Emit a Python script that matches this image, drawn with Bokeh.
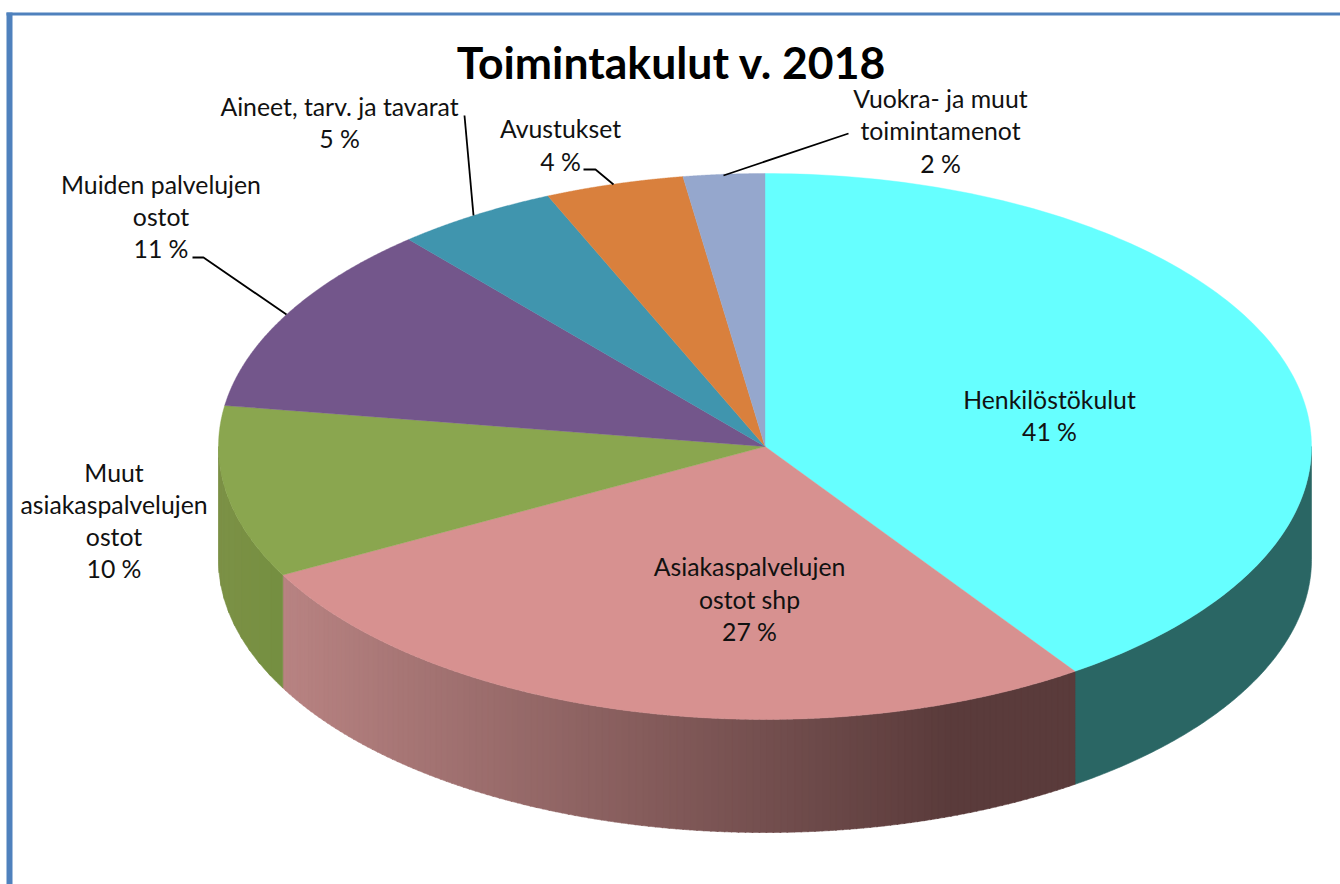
import math
import numpy as np
from bokeh.embed import file_html
from bokeh.resources import INLINE
from bokeh.plotting import figure
from bokeh.models import Range1d
from bokeh.core.properties import value

title_text = "Toimintakulut v. 2018"
categories = ["Henkilöstökulut", "Asiakaspalvelujen ostot shp", "Muut asiakaspalvelujen ostot",
              "Muiden palvelujen ostot", "Aineet, tarv. ja tavarat", "Avustukset",
              "Vuokra- ja muut toimintamenot"]
values = [40.4, 26.8, 10.2, 11.3, 4.8, 4.1, 2.4]
top_colors = ["#66FFFF", "#D79190", "#8AA64F", "#73568B", "#4095AE", "#D9803D", "#95A7CD"]
side_left = ["#2A6664", "#B88382", "#7C9146", "#5A4370", "#33778B", "#AD6631", "#7786A4"]
side_right = ["#2A6664", "#5A3B3B", "#748F40", "#5A4370", "#33778B", "#AD6631", "#7786A4"]
shade_span = [1.0, 0.84, 1.0, 1.0, 1.0, 1.0, 1.0]

label_lines = ["Henkilöstökulut", "41 %",
               "Asiakaspalvelujen", "ostot shp", "27 %",
               "Muut", "asiakaspalvelujen", "ostot", "10 %",
               "Muiden palvelujen", "ostot", "11 %",
               "Aineet, tarv. ja tavarat", "5 %",
               "Avustukset", "4 %",
               "Vuokra- ja muut", "toimintamenot", "2 %"]
label_x = [1049, 1049, 749, 749, 749, 113.5, 113.5, 113.5, 113.5, 160.5, 160.5, 160.5, 339, 339, 560, 560, 940, 940, 940]
label_y = [398.5, 430.5, 565.5, 598.5, 630.5, 471.5, 503.5, 535.5, 567.5, 183.5, 215.5, 247.5, 105.5, 137.5, 127.5, 160.5, 97.5, 129.5, 162.5]

leaders_x = [[192, 203, 286], [464, 473], [583, 595, 613], [723, 848]]
leaders_y = [[257, 257, 314], [115, 215], [169, 169, 184], [175, 133]]

CX, CY, RX, RY, DEPTH = 764.5, 446.0, 546.5, 273.0, 113.0
W, H = 1340, 884


def pt(theta):
    return CX + RX * math.sin(theta), CY - RY * math.cos(theta)


def hex2rgb(h):
    return tuple(int(h[i:i + 2], 16) for i in (1, 3, 5))


def mix(a, b, t):
    ca, cb = hex2rgb(a), hex2rgb(b)
    return "#%02X%02X%02X" % tuple(round(ca[i] + (cb[i] - ca[i]) * t) for i in range(3))


p = figure(width=W, height=H, output_backend="svg", toolbar_location=None,
           x_range=Range1d(0, W), y_range=Range1d(H, 0),
           min_border=0, outline_line_color=None, background_fill_color="white",
           border_fill_color="white")
p.axis.visible = False
p.grid.visible = False
p.styles = {"position": "absolute", "left": "0px", "top": "0px"}

# frame
p.quad(left=[6, 6], right=[W, 12], top=[12, 12], bottom=[15, H],
       fill_color="#4F81BD", line_color=None)

total = sum(values)
edges = [0.0]
for v in values:
    edges.append(edges[-1] + v / total * 2 * math.pi)

# side wall (front half only); shaded walls are split in narrow vertical strips
for i in range(len(values)):
    a0, a1 = max(edges[i], math.pi / 2), min(edges[i + 1], 3 * math.pi / 2)
    if a1 <= a0:
        continue
    x_a, x_b = pt(a0)[0], pt(a1)[0]
    xl, xr = min(x_a, x_b), max(x_a, x_b)
    flat = side_left[i] == side_right[i]
    n = 1 if flat else max(2, int((xr - xl) / 6))
    per = 120 if flat else 6
    ang = np.linspace(a0, a1, n * per + 1)
    for k in range(n):
        seg = ang[k * per: (k + 1) * per + 2]
        xs = [pt(t)[0] for t in seg]
        ys = [pt(t)[1] for t in seg]
        mid = (xs[0] + xs[-1]) / 2
        col = mix(side_left[i], side_right[i], min(1.0, (mid - xl) / ((xr - xl) * shade_span[i])))
        p.patch(xs + xs[::-1], ys + [y + DEPTH for y in ys[::-1]],
                fill_color=col, line_color=col, line_width=0.6)

# top face
for i in range(len(values)):
    ang = np.linspace(edges[i], edges[i + 1], 160)
    xs = [CX] + [pt(t)[0] for t in ang]
    ys = [CY] + [pt(t)[1] for t in ang]
    p.patch(xs, ys, fill_color=top_colors[i], line_color=top_colors[i], line_width=0.4)

p.multi_line(leaders_x, leaders_y, line_color="black", line_width=1.8)

p.text(x=label_x, y=label_y, text=label_lines, text_font=value("Lato"), text_font_size="24.8px",
       text_align="center", text_baseline="middle", text_color="#111111")
p.text(x=[671], y=[61], text=[title_text], text_font=value("Lato"), text_font_size="44.5px",
       text_font_style="bold", text_align="center", text_baseline="middle", text_color="black")

open("out.html", "w").write(file_html(p, INLINE))
